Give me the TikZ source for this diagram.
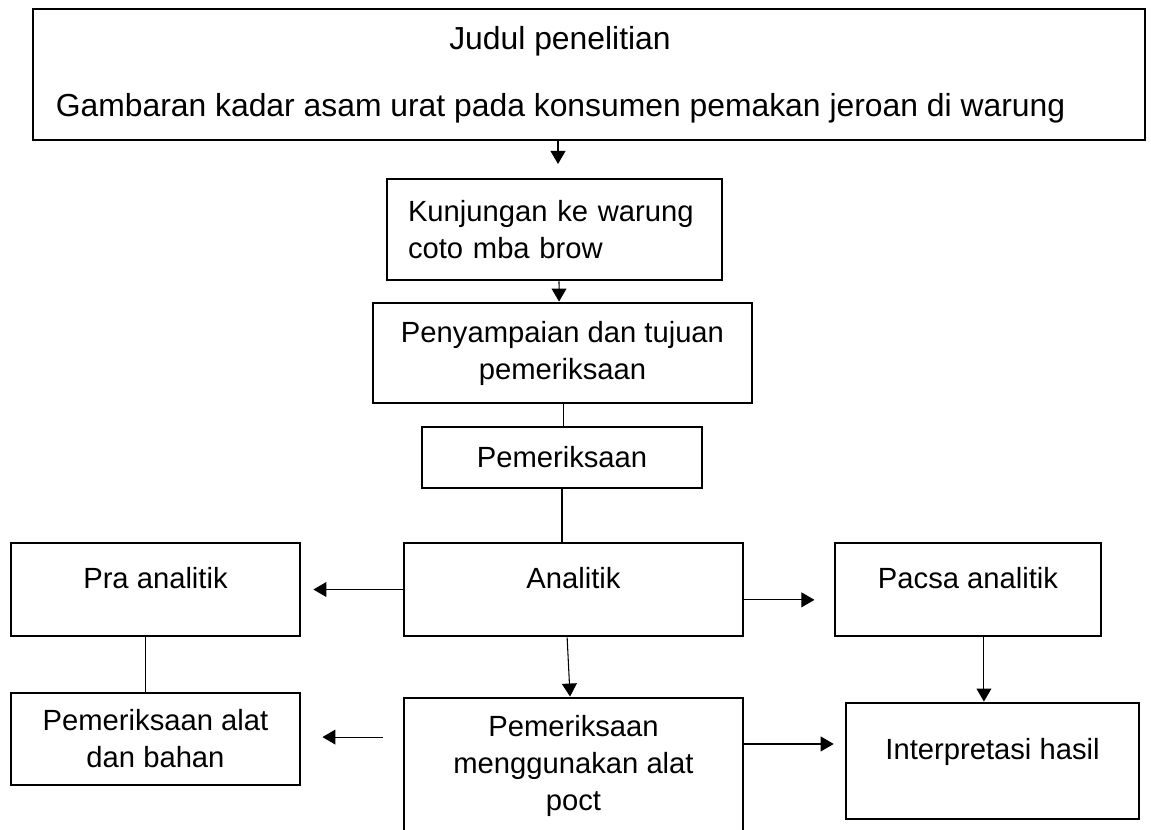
\documentclass[tikz,border=0pt]{standalone}
\usepackage{fontspec}
\setmainfont{Liberation Sans}
\usetikzlibrary{arrows.meta, positioning}
\newcommand{\pxu}{0.3767pt}

\begin{document}
\begin{tikzpicture}[x=\pxu, y=-\pxu,
    box/.style={draw, line width=1.1pt, inner sep=0pt, align=center, font=\fontsize{11}{13.9}\selectfont},
    onerow/.style={text height=8pt, text depth=9pt},
    titletext/.style={anchor=base, font=\fontsize{12}{14}\selectfont},
    arr/.style={-{Triangle[length=4.9pt,width=5.6pt]}, line width=0.4pt},
    link/.style={line width=0.4pt}]

    \clip (0,0) rectangle (1151,829);

    % judul
    \node[box, minimum width=1112*\pxu, minimum height=131*\pxu] (judul) at (589,74.5) {};
    \node[titletext] (judul-a) at (560,50)  {Judul penelitian};
    \node[titletext] (judul-b) at (560.5,117) {Gambaran kadar asam urat pada konsumen pemakan jeroan di warung};
    \coordinate (judul-tip) at (558,164);

    % alur tengah
    \node[box, align=left, text width=293*\pxu, minimum width=335*\pxu, minimum height=101*\pxu] (kunjungan) at (554.5,229.5) {Kunjungan ke warung\\coto mba brow};
    \node[box, minimum width=379*\pxu, minimum height=100*\pxu] (penyampaian) at (562.5,353) {Penyampaian dan tujuan\\pemeriksaan};
    \node[box, minimum width=280*\pxu, minimum height=61*\pxu] (pemeriksaan) at (562,457.5) {Pemeriksaan};

    % tahap
    \node[box, onerow, minimum width=289*\pxu, minimum height=93*\pxu] (pra)    at (155.5,589.5) {Pra analitik};
    \node[box, onerow, minimum width=339*\pxu, minimum height=93*\pxu] (analitik) at (573.5,589.5) {Analitik};
    \node[box, onerow, minimum width=266*\pxu, minimum height=93*\pxu] (pacsa)  at (968,589.5)   {Pacsa analitik};

    \node[box, minimum width=289*\pxu, minimum height=92*\pxu]  (alat)   at (155.5,739) {Pemeriksaan alat\\dan bahan};
    \node[box, minimum width=339*\pxu, minimum height=136*\pxu] (poct)   at (573.5,766) {Pemeriksaan\\menggunakan alat\\poct};
    \node[box, onerow, minimum width=293*\pxu, minimum height=116*\pxu] (hasil) at (992.5,761) {Interpretasi hasil};

    % penghubung
    \draw[arr] (judul.south -| judul-tip) -- (judul-tip);
    \draw[arr] ([xshift=1.7pt]kunjungan.south) -- ([xshift=-1.3pt]penyampaian.north);
    \draw[link] ([xshift=0.5pt]penyampaian.south) -- ([xshift=0.5pt]penyampaian.south |- pemeriksaan.north);
    \draw[link] (pemeriksaan.south) -- (pemeriksaan.south |- analitik.north);

    \draw[arr, shorten >=4.5pt] (analitik.west) -- (pra.east);
    \draw[arr, shorten >=7.2pt] ([yshift=-3.9pt]analitik.east) -- ([yshift=-3.9pt]pacsa.west);
    \draw[link] ([xshift=-3.6pt]pra.south) -- ([xshift=-3.6pt]alat.north);
    \draw[arr] ([xshift=-2.4pt]analitik.south) -- ([xshift=-1.3pt]poct.north);
    \draw[arr] ([xshift=6pt]pacsa.south) -- ([xshift=6pt]pacsa.south |- hasil.north);

    \draw[arr, shorten <=7.2pt, shorten >=7.9pt] ([yshift=10.9pt]poct.west) -- ([yshift=10.9pt]poct.west -| alat.east);
    \draw[arr, shorten >=4.1pt] ([yshift=8.3pt]poct.east) -- ([yshift=8.3pt]poct.east -| hasil.west);
\end{tikzpicture}
\end{document}
